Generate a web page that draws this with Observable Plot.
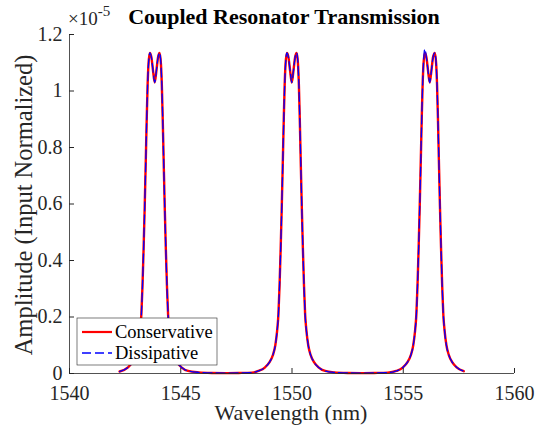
<!DOCTYPE html>
<html><head><meta charset="utf-8">
<script src="https://cdn.jsdelivr.net/npm/d3@7"></script>
<script src="https://cdn.jsdelivr.net/npm/@observablehq/plot@0.6"></script>
<style>html,body{margin:0;padding:0;background:#fff}svg{display:block}</style>
</head><body><div id="chart"></div>
<script>
// Wavelength samples (nm)
const wavelength = [
1542.25,1542.63,1542.83,1542.98,1543.09,1543.17,1543.23,1543.28,1543.33,1543.38,1543.43,1543.47,1543.51,1543.55,1543.61,1543.68,1543.75,1543.83,1543.91,1543.98,1544.05,1544.11,1544.15,1544.19,1544.23,1544.28,1544.33,1544.38,1544.43,1544.49,1544.57,1544.68,1544.83,1545.03,1545.33,1545.8,1546.4,1547.0,
1547.6,1548.2,1548.49,1548.79,1548.99,1549.14,1549.25,1549.33,1549.39,1549.44,1549.49,1549.54,1549.59,1549.63,1549.67,1549.71,1549.77,1549.84,1549.91,1549.99,1550.07,1550.14,1550.21,1550.27,1550.31,1550.35,1550.39,1550.44,1550.49,1550.54,1550.59,1550.65,1550.73,1550.84,1550.99,1551.19,1551.49,1551.9,1552.5,1553.1,
1553.7,1554.3,1554.69,1554.99,1555.19,1555.34,1555.45,1555.53,1555.59,1555.64,1555.69,1555.74,1555.79,1555.83,1555.87,1555.91,1555.97,1556.04,1556.11,1556.19,1556.27,1556.34,1556.42,1556.48,1556.52,1556.56,1556.60,1556.65,1556.70,1556.75,1556.80,1556.86,1556.94,1557.05,1557.20,1557.40,1557.72];
// Amplitude (x 1e-5), Conservative model
const conservative = [
0.007,0.022,0.040,0.065,0.10,0.15,0.21,0.31,0.44,0.59,0.76,0.90,1.02,1.095,1.135,1.12,1.075,1.03,1.075,1.12,1.135,1.095,1.02,0.90,0.76,0.59,0.44,0.31,0.21,0.15,0.10,0.065,0.040,0.022,0.009,0.004,0.002,0.0015,
0.002,0.003,0.009,0.022,0.040,0.065,0.10,0.15,0.21,0.31,0.44,0.59,0.76,0.90,1.02,1.095,1.135,1.12,1.075,1.03,1.075,1.12,1.135,1.095,1.02,0.90,0.76,0.59,0.44,0.31,0.21,0.15,0.10,0.065,0.040,0.022,0.009,0.004,0.002,0.0015,
0.002,0.003,0.009,0.022,0.040,0.065,0.10,0.15,0.21,0.31,0.44,0.59,0.76,0.90,1.02,1.095,1.135,1.12,1.075,1.03,1.075,1.12,1.135,1.095,1.02,0.90,0.76,0.59,0.44,0.31,0.21,0.15,0.10,0.065,0.040,0.022,0.008];
// Amplitude (x 1e-5), Dissipative model
const dissipative = [
0.007,0.022,0.040,0.065,0.10,0.15,0.21,0.31,0.44,0.59,0.76,0.90,1.02,1.095,1.135,1.12,1.075,1.03,1.075,1.12,1.135,1.095,1.02,0.90,0.76,0.59,0.44,0.31,0.21,0.15,0.10,0.065,0.040,0.022,0.009,0.004,0.002,0.0015,
0.002,0.003,0.009,0.022,0.040,0.065,0.10,0.15,0.21,0.31,0.44,0.59,0.76,0.90,1.02,1.095,1.135,1.12,1.075,1.03,1.075,1.12,1.135,1.095,1.02,0.90,0.76,0.59,0.44,0.31,0.21,0.15,0.10,0.065,0.040,0.022,0.009,0.004,0.002,0.0015,
0.002,0.003,0.009,0.022,0.040,0.065,0.10,0.15,0.21,0.31,0.44,0.59,0.76,0.90,1.02,1.10,1.148,1.12,1.075,1.03,1.075,1.12,1.135,1.095,1.02,0.90,0.76,0.59,0.44,0.31,0.21,0.15,0.10,0.065,0.040,0.022,0.008];
const seriesNames = ["Conservative", "Dissipative"];
const seriesColors = ["#ff0000", "#0000ff"];
const xTicks = [1540, 1545, 1550, 1555, 1560];
const yTicks = [0, 0.2, 0.4, 0.6, 0.8, 1, 1.2];
const titleText = "Coupled Resonator Transmission";
const xLabel = "Wavelength (nm)";
const yLabel = "Amplitude (Input Normalized)";

const rows = wavelength.map((w, i) => ({w, c: conservative[i], d: dissipative[i]}));
const FONT = "'Liberation Serif', 'Times New Roman', serif";
const AX = "#262626";

const plot = Plot.plot({
  width: 535, height: 429,
  marginLeft: 69, marginRight: 21, marginTop: 34, marginBottom: 56,
  x: {domain: [1540, 1560]},
  y: {domain: [0, 1.2]},
  style: {fontFamily: FONT, fontSize: "20px", color: AX, background: "#fff"},
  marks: [
    Plot.line(rows, {x: "w", y: "c", stroke: seriesColors[0], strokeWidth: 2.4, curve: "monotone-x"}),
    Plot.line(rows, {x: "w", y: "d", stroke: seriesColors[1], strokeWidth: 1.3, strokeDasharray: "9,4", curve: "monotone-x"}),
    Plot.ruleY([0], {stroke: AX, strokeWidth: 0.8}),
    Plot.ruleX([1540], {stroke: AX, strokeWidth: 0.8}),
    Plot.axisX(xTicks, {tickSize: 5, dy: -5, tickFormat: () => "", label: null, stroke: AX}),
    Plot.axisX(xTicks, {tickSize: 0, tickPadding: 12, label: null, tickFormat: d => String(d), fill: AX}),
    Plot.axisY(yTicks, {tickSize: 5, dx: 5, tickFormat: () => "", label: null, stroke: AX}),
    Plot.axisY(yTicks, {tickSize: 0, tickPadding: 7, label: null, tickFormat: d => String(d), fill: AX})
  ]
});
document.getElementById("chart").appendChild(plot);

const svg = d3.select(plot);
// enlarge Plot's tick label text to match reference
svg.selectAll("g").filter(function() { return this.querySelector("text"); })
  .attr("font-size", 20).style("font-size", "20px").attr("font-family", FONT);
svg.selectAll("text").attr("font-size", 20).style("font-size", "20px").style("font-family", FONT);

function addText(x, y, str, size, opts = {}) {
  const t = svg.append("text").attr("x", x).attr("y", y)
    .attr("text-anchor", opts.anchor || "start")
    .style("font-family", FONT).style("font-size", size + "px")
    .attr("font-weight", opts.bold ? "bold" : "normal")
    .attr("fill", opts.fill || AX);
  if (opts.transform) t.attr("transform", opts.transform);
  if (str !== null) t.text(str);
  return t;
}
// Title
addText(284, 24, titleText, 22, {anchor: "middle", bold: true, fill: "#000"});
// Exponent
const ex = addText(68, 25, null, 19);
ex.append("tspan").text("\u00d710");
ex.append("tspan").attr("dy", -9).style("font-size", "15px").text("-5");
// Axis labels
addText(291, 420, xLabel, 22, {anchor: "middle"});
addText(0, 0, yLabel, 24.5, {anchor: "middle", transform: "translate(32,205) rotate(-90)"});
// Legend
const lg = svg.append("g");
lg.append("rect").attr("x", 77).attr("y", 318).attr("width", 140).attr("height", 47)
  .attr("fill", "#fff").attr("stroke", AX).attr("stroke-width", 0.6);
seriesNames.forEach((name, i) => {
  const yy = 332 + i * 21;
  lg.append("line").attr("x1", 82).attr("x2", 112).attr("y1", yy).attr("y2", yy)
    .attr("stroke", seriesColors[i]).attr("stroke-width", i === 0 ? 2.2 : 1.3)
    .attr("stroke-dasharray", i === 0 ? "none" : "9,4");
  lg.append("text").attr("x", 115).attr("y", yy + 6).attr("text-anchor", "start")
    .style("font-family", FONT).style("font-size", "18.5px").attr("fill", "#000").text(name);
});
</script>
</body></html>
